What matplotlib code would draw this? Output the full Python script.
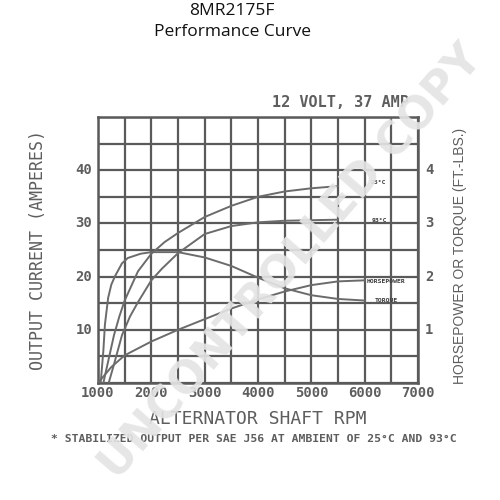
"""
Alternator performance curve (8MR2175F),
output current on the left axis and
horsepower / torque on the right axis.
"""

import matplotlib

matplotlib.use("Agg")
import matplotlib.pyplot as plt
import numpy as np

# output current, 25 C ambient
rpm_25 = [1100, 1200, 1300, 1400, 1500, 1750, 2000, 2250, 2500, 3000, 3500, 4000, 4500, 5000, 5500]
amps_25 = [0, 4.5, 9, 12.5, 15.5, 21, 24.3, 26.5, 28.2, 31.2, 33.3, 35, 36, 36.6, 37]

# output current, 93 C ambient
rpm_93 = [1200, 1300, 1450, 1600, 1750, 2000, 2200, 2500, 3000, 3500, 4000, 4500, 5000, 5500]
amps_93 = [0, 3.5, 9, 12.5, 15.2, 19.3, 21.5, 24.4, 28, 29.5, 30.2, 30.5, 30.6, 30.7]

# input torque (ft.-lbs.)
rpm_tq = [1050, 1100, 1130, 1190, 1250, 1320, 1450, 1560, 1800, 2000, 2500, 3000, 3500, 4000, 4500, 5000, 5500, 6000]
torque = [0, 0.6, 1.1, 1.6, 1.85, 2.01, 2.25, 2.35, 2.43, 2.46, 2.46, 2.36, 2.2, 1.98, 1.78, 1.65, 1.58, 1.55]

# input horsepower
rpm_hp = [1000, 1250, 1500, 2000, 2500, 3000, 3500, 4000, 4500, 5000, 5500, 6000]
horsepower = [0, 0.3, 0.52, 0.78, 1.0, 1.2, 1.4, 1.57, 1.72, 1.84, 1.91, 1.93]

x_ticks = [1000, 2000, 3000, 4000, 5000, 6000, 7000]
left_ticks = [10, 20, 30, 40]
right_ticks = [1, 2, 3, 4]

grid_c = "#5a5a5a"
curve_c = "#6b6b6b"
text_c = "#5e5e5e"
mono = "DejaVu Sans Mono"

fig = plt.figure(figsize=(5, 5), dpi=100)
ax = fig.add_axes([0.196, 0.234, 0.64, 0.532])
ax.set_xlim(1000, 7000)
ax.set_ylim(0, 50)

ax.set_xticks(np.arange(1000, 7001, 500))
ax.set_yticks(np.arange(0, 51, 5))
ax.set_xticklabels([])
ax.set_yticklabels([])
ax.tick_params(length=0)
ax.grid(True, color=grid_c, linewidth=1.6)
for sp in ax.spines.values():
    sp.set_color(grid_c)
    sp.set_linewidth(1.8)

for x in x_ticks:
    ax.text(x, -0.5, str(x), ha="center", va="top", fontsize=10,
            family=mono, weight="bold", color=text_c)
for y in left_ticks:
    ax.text(890, y, str(y), ha="right", va="center", fontsize=10,
            family=mono, weight="bold", color=text_c)
for y in right_ticks:
    ax.text(7130, y * 10, str(y), ha="left", va="center", fontsize=10,
            family=mono, weight="bold", color=text_c)

ax.plot(rpm_25, amps_25, color=curve_c, linewidth=1.4, zorder=3)
ax.plot(rpm_93, amps_93, color=curve_c, linewidth=1.4, zorder=3)

ax2 = ax.twinx()
ax2.set_ylim(0, 5)
ax2.set_yticks([])
for sp in ax2.spines.values():
    sp.set_visible(False)
ax2.plot(rpm_tq, torque, color=curve_c, linewidth=1.4)
ax2.plot(rpm_hp, horsepower, color=curve_c, linewidth=1.4)

# little curve tags at the right end
tag = dict(fontsize=4.6, family=mono, weight="bold", color="#3a3a3a",
           va="center", ha="center")
ax.text(6250, 37.6, "25°C", **tag)
ax.text(6280, 30.6, "93°C", **tag)
ax.text(6400, 19.0, "HORSEPOWER", **tag)
ax.text(6400, 15.6, "TORQUE", **tag)

fig.text(0.464, 0.978, "8MR2175F", ha="center", va="center",
         fontsize=12.5, family="Open Sans", color="#111111")
fig.text(0.464, 0.936, "Performance Curve", ha="center", va="center",
         fontsize=12.5, family="Open Sans", color="#111111")

fig.text(0.68, 0.795, "12 VOLT, 37 AMP", ha="center", va="center",
         fontsize=11, family=mono, weight="bold", color=text_c)
fig.text(0.076, 0.5, "OUTPUT CURRENT (AMPERES)", rotation=90,
         ha="center", va="center", fontsize=12, family=mono, color=text_c)
fig.text(0.92, 0.488, "HORSEPOWER OR TORQUE (FT.-LBS.)", rotation=90,
         ha="center", va="center", fontsize=10, family="Liberation Sans",
         color=text_c)
fig.text(0.516, 0.162, "ALTERNATOR SHAFT RPM", ha="center", va="center",
         fontsize=13, family=mono, color=text_c)
fig.text(0.508, 0.122,
         "* STABILIZED OUTPUT PER SAE J56 AT AMBIENT OF 25°C AND 93°C",
         ha="center", va="center", fontsize=8.2, family=mono,
         weight="bold", color=text_c)

# watermark over the whole sheet
fig.text(0.584, 0.476, "UNCONTROLLED COPY", rotation=49, ha="center",
         va="center", fontsize=32, weight="bold", family="DejaVu Sans",
         color="#e4e4e4", alpha=0.92, zorder=10)

fig.savefig("out.png", dpi=100, facecolor="white")
